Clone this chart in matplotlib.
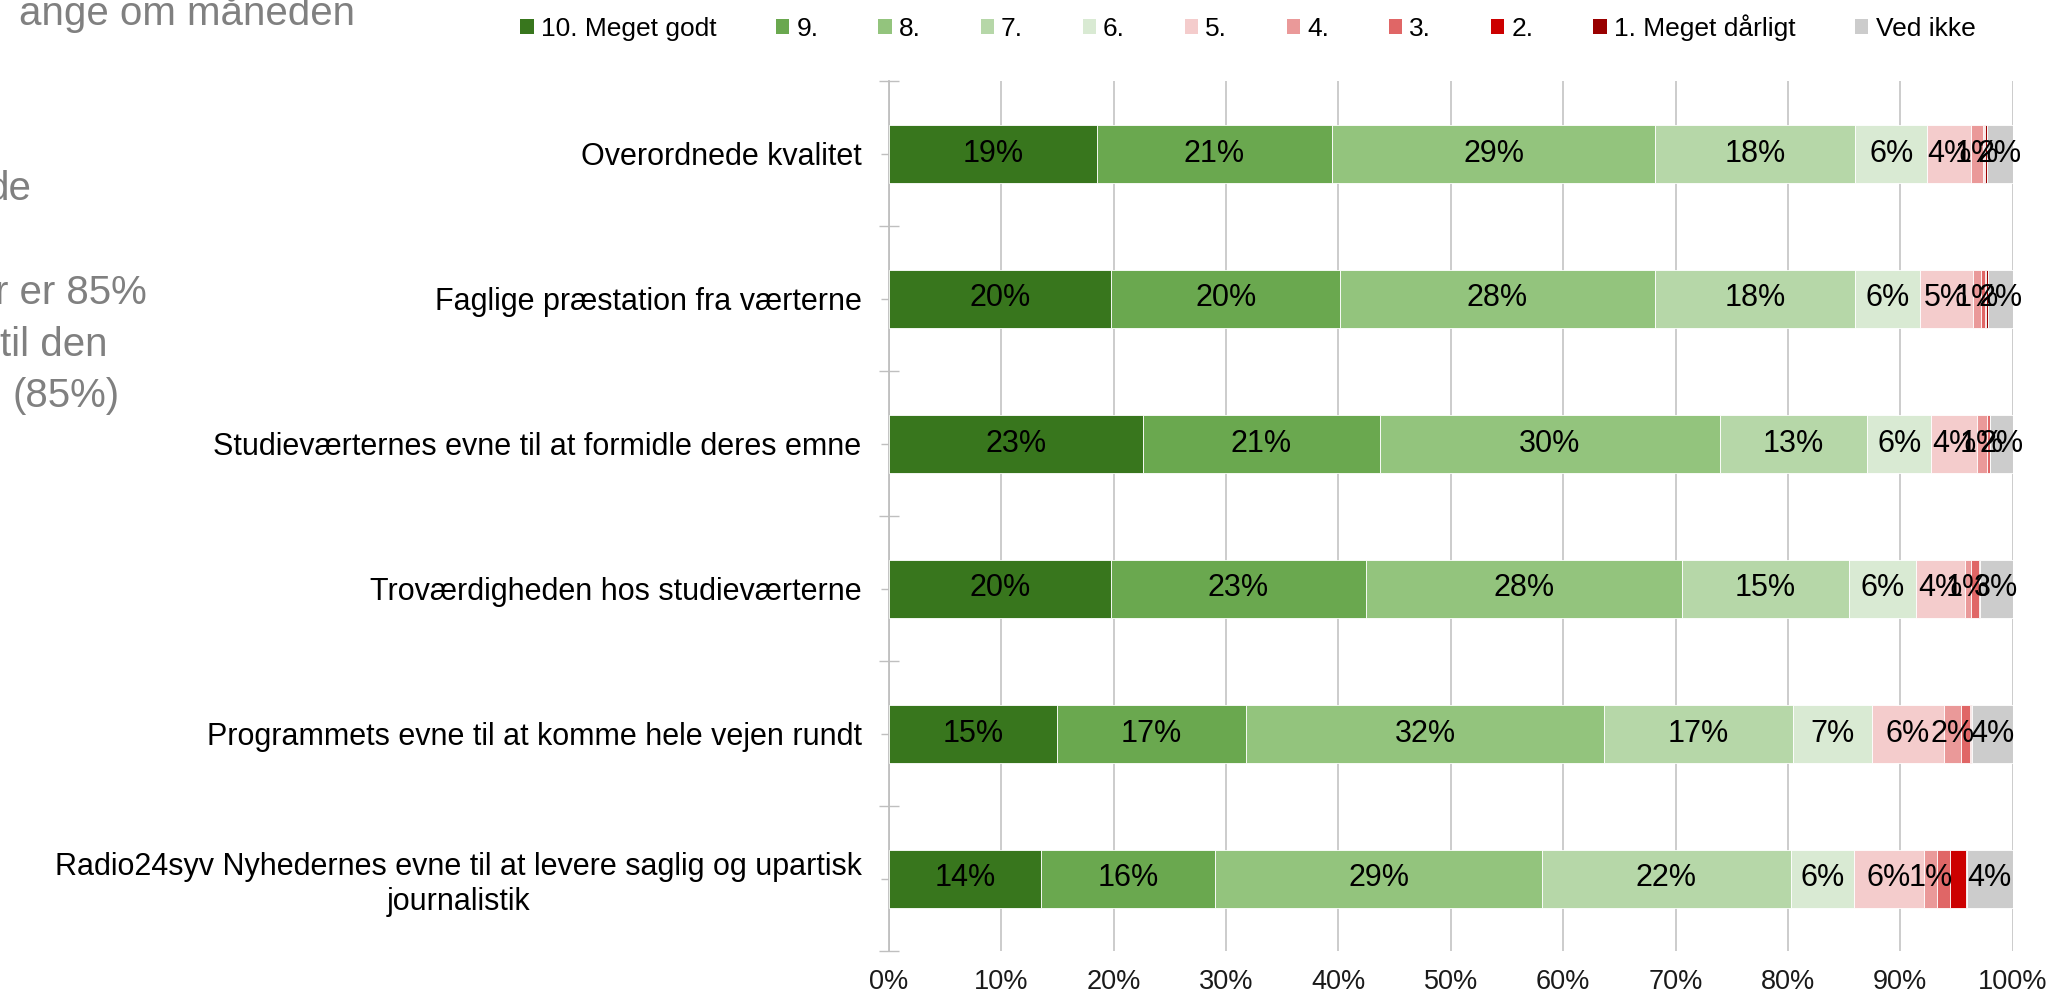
import matplotlib.pyplot as plt
from matplotlib.patches import Patch
from matplotlib.ticker import FixedLocator, PercentFormatter

plt.rcParams['font.family'] = ['Liberation Sans', 'DejaVu Sans']

categories = [
    'Overordnede kvalitet',
    'Faglige præstation fra værterne',
    'Studieværternes evne til at formidle deres emne',
    'Troværdigheden hos studieværterne',
    'Programmets evne til at komme hele vejen rundt',
    'Radio24syv Nyhedernes evne til at levere saglig og upartisk\njournalistik',
]

series_names = ['10. Meget godt', '9.', '8.', '7.', '6.', '5.', '4.', '3.', '2.',
                '1. Meget dårligt', 'Ved ikke']

# shares in percent, one list per answer, rows in category order
s10 = [18.53, 19.81, 22.60, 19.78, 15.00, 13.55]
s9 = [20.91, 20.34, 21.11, 22.69, 16.79, 15.52]
s8 = [28.74, 28.03, 30.25, 28.11, 31.85, 29.05]
s7 = [17.80, 17.76, 13.08, 14.88, 16.81, 22.12]
s6 = [6.42, 5.78, 5.72, 5.94, 7.03, 5.64]
s5 = [3.89, 4.75, 4.06, 4.33, 6.41, 6.20]
s4 = [1.04, 0.71, 0.86, 0.56, 1.51, 1.19]
s3 = [0.13, 0.38, 0.33, 0.71, 0.83, 1.15]
s2 = [0.10, 0.07, 0.00, 0.00, 0.10, 1.40]
s1 = [0.15, 0.20, 0.00, 0.09, 0.08, 0.08]
ved_ikke = [2.29, 2.17, 1.99, 2.91, 3.59, 4.10]

series = [s10, s9, s8, s7, s6, s5, s4, s3, s2, s1, ved_ikke]
colors = ['#38761d', '#6aa84f', '#93c47d', '#b6d7a8', '#d9ead3', '#f4cccc',
          '#ea9999', '#e06666', '#cc0000', '#990000', '#cccccc']
# the labels of answers 3, 2 and 1 are not shown in the chart
show_label = [True, True, True, True, True, True, True, False, False, False, True]

W, H = 2049, 994
fig = plt.figure(figsize=(W / 100, H / 100), dpi=100)
ax = fig.add_axes([888.7 / W, 1 - 951 / H, 1124 / W, 870 / H])

ys = list(range(len(categories)))
left = [0.0] * len(categories)
for vals, col, lab in zip(series, colors, show_label):
    bars = ax.barh(ys, vals, left=left, height=0.4, color=col,
                   edgecolor='white', linewidth=0.6, zorder=3)
    if lab:
        ax.bar_label(bars, labels=[f'{v:.0f}%' for v in vals],
                     label_type='center', fontsize=22, color='black', zorder=4)
    left = [l + v for l, v in zip(left, vals)]

ax.set_xlim(0, 100)
ax.set_ylim(len(categories) - 0.5, -0.5)
ax.xaxis.set_major_locator(FixedLocator(range(0, 101, 10)))
ax.xaxis.set_major_formatter(PercentFormatter(decimals=0))
ax.grid(axis='x', color='#c8c8c8', linewidth=1.3, zorder=0)

ax.set_yticks(ys)
ax.set_yticklabels(categories, fontsize=22, multialignment='center')
ax.set_yticks([i - 0.5 for i in range(len(categories) + 1)], minor=True)
ax.tick_params(axis='y', which='major', direction='out', length=5.5, width=1,
               color='#bfbfbf', pad=14)
ax.tick_params(axis='y', which='minor', direction='inout', length=13.7, width=1,
               color='#bfbfbf')
ax.tick_params(axis='x', length=0, labelsize=19.5, labelcolor='#1a1a1a', pad=13)

for side in ['top', 'right', 'bottom']:
    ax.spines[side].set_visible(False)
ax.spines['left'].set_color('#bfbfbf')
ax.spines['left'].set_linewidth(1.3)

handles = [Patch(facecolor=c, edgecolor='none') for c in colors]
fig.legend(handles, series_names, loc='center', bbox_to_anchor=(0.6090, 1 - 28 / H),
           ncol=len(series_names), frameon=False, fontsize=19,
           handlelength=0.5, handleheight=0.5, handletextpad=0.27,
           columnspacing=2.27, borderpad=0)

# leftover text from a neighbouring text box, cut by the left edge
gray = '#808080'
side_text = [('ange om måneden', 355, 25), ('de', 31, 200), ('r er 85%', 147, 304),
             ('til den', 107, 356), ('(85%)', 120, 407)]
for txt, xr, yb in side_text:
    fig.text(xr / W, 1 - yb / H, txt, ha='right', va='baseline', fontsize=29, color=gray)

fig.savefig('out.png', dpi=100)
